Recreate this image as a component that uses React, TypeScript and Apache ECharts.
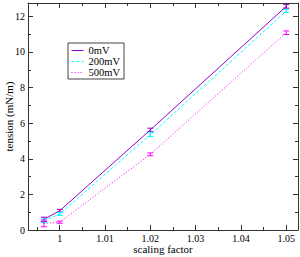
import React, { useEffect, useRef } from "react";
import * as echarts from "echarts";

const xValues = [0.9965, 1.0, 1.02, 1.05];
const names = ["0mV", "200mV", "500mV"];
const tension0 = [0.6, 1.08, 5.62, 12.56];
const tension200 = [0.52, 0.9, 5.35, 12.3];
const tension500 = [0.37, 0.44, 4.25, 11.08];
const err0 = [0.12, 0.08, 0.1, 0.1];
const err200 = [0.1, 0.08, 0.1, 0.08];
const err500 = [0.19, 0.06, 0.08, 0.1];
const xMajor = [1.0, 1.01, 1.02, 1.03, 1.04, 1.05];
const xMinor = [0.995, 1.005, 1.015, 1.025, 1.035, 1.045];
const yMajor = [0, 2, 4, 6, 8, 10, 12];
const yMinor = [1, 3, 5, 7, 9, 11];

const colors = ["#9400d3", "#00ffff", "#ff00ff"];
const lineTypes: any[] = ["solid", [3, 2], [1, 2]];
const FONT = "Liberation Serif";
const X_MIN = 0.993;
const X_MAX = 1.0526;
const Y_MIN = 0;
const Y_MAX = 12.75;
const AX = "#333";

function makeAxis(kind: "x" | "y", position: string, values: number[], len: number, labels: boolean, line: boolean) {
  return {
    type: "value",
    position,
    min: kind === "x" ? X_MIN : Y_MIN,
    max: kind === "x" ? X_MAX : Y_MAX,
    axisLine: { show: line, onZero: false, lineStyle: { color: AX, width: 1 } },
    axisTick: { show: true, inside: true, length: len, customValues: values, lineStyle: { color: AX, width: 1 } },
    axisLabel: {
      show: labels,
      customValues: values,
      fontFamily: FONT,
      fontSize: 10,
      fontWeight: "normal",
      color: "#000",
      margin: 3,
    },
    splitLine: { show: false },
  };
}

export default function App() {
  const ref = useRef<HTMLDivElement>(null);
  useEffect(() => {
    if (!ref.current) return;
    const chart = echarts.init(ref.current, undefined, { renderer: "svg" });
    const series: any[] = [];
    const allVals = [tension0, tension200, tension500];
    const allErr = [err0, err200, err500];
    names.forEach((n, i) => {
      series.push({
        name: n,
        type: "line",
        xAxisIndex: 0,
        yAxisIndex: 0,
        data: xValues.map((x, j) => [x, allVals[i][j]]),
        showSymbol: false,
        symbol: "none",
        lineStyle: { color: colors[i], width: 1, type: lineTypes[i] },
        itemStyle: { color: colors[i] },
        z: 3,
      });
      series.push({
        name: n + "-err",
        type: "custom",
        xAxisIndex: 0,
        yAxisIndex: 0,
        data: xValues.map((x, j) => [x, allVals[i][j], allErr[i][j]]),
        encode: { x: 0, y: 1 },
        renderItem: (params: any, api: any) => {
          const x = api.value(0);
          const y = api.value(1);
          const e = api.value(2);
          const top = api.coord([x, y + e]);
          const bot = api.coord([x, y - e]);
          const w = 3;
          const st = { stroke: colors[i], lineWidth: 1 };
          return {
            type: "group",
            children: [
              { type: "line", shape: { x1: top[0], y1: top[1], x2: bot[0], y2: bot[1] }, style: st },
              { type: "line", shape: { x1: top[0] - w, y1: top[1], x2: top[0] + w, y2: top[1] }, style: st },
              { type: "line", shape: { x1: bot[0] - w, y1: bot[1], x2: bot[0] + w, y2: bot[1] }, style: st },
            ],
          };
        },
        z: 4,
      });
    });

    const xBottom: any = makeAxis("x", "bottom", xMajor, 5, true, true);
    xBottom.name = "scaling factor";
    xBottom.nameLocation = "middle";
    xBottom.nameGap = 13;
    xBottom.nameMoveOverlap = false;
    xBottom.nameTextStyle = { fontFamily: FONT, fontSize: 11, fontWeight: "normal", color: "#000" };
    const yLeft: any = makeAxis("y", "left", yMajor, 5, true, true);
    yLeft.name = "tension (mN/m)";
    yLeft.nameLocation = "middle";
    yLeft.nameGap = 14;
    yLeft.nameMoveOverlap = false;
    yLeft.nameTextStyle = { fontFamily: FONT, fontSize: 11, fontWeight: "normal", color: "#000" };

    chart.setOption({
      animation: false,
      backgroundColor: "#fff",
      textStyle: { fontFamily: FONT, fontWeight: "normal" },
      grid: { left: 28, right: 2, top: 3, bottom: 27, containLabel: false, outerBoundsMode: "none" },
      legend: {
        data: names,
        orient: "vertical",
        left: 68,
        top: 43,
        padding: [2, 4, 1, 3],
        borderColor: "#444",
        borderWidth: 1,
        itemWidth: 12,
        itemHeight: 8,
        itemGap: 0,
        itemStyle: { opacity: 0 },
        lineStyle: { width: 1 },
        textStyle: { fontFamily: FONT, fontSize: 10.5, fontWeight: "normal", color: "#000", lineHeight: 10 },
      },
      xAxis: [
        xBottom,
        makeAxis("x", "bottom", xMinor, 3, false, false),
        makeAxis("x", "top", xMajor, 5, false, true),
        makeAxis("x", "top", xMinor, 3, false, false),
      ],
      yAxis: [
        yLeft,
        makeAxis("y", "left", yMinor, 3, false, false),
        makeAxis("y", "right", yMajor, 5, false, true),
        makeAxis("y", "right", yMinor, 3, false, false),
      ],
      series,
    });
    return () => chart.dispose();
  }, []);
  return <div ref={ref} style={{ position: "fixed", left: 0, top: 0, width: 300, height: 257 }} />;
}
